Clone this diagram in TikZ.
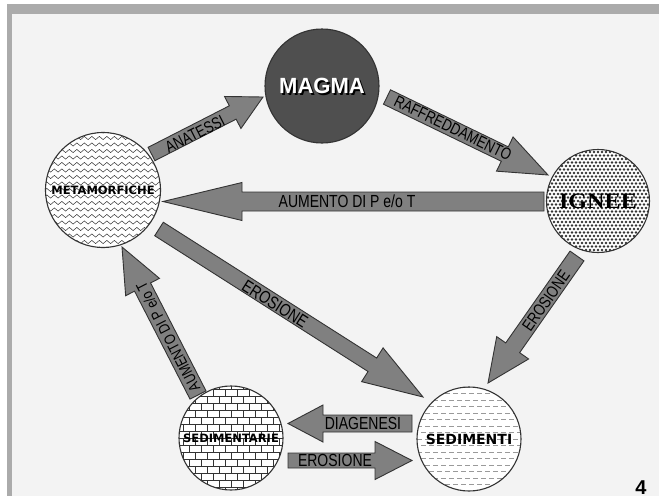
\documentclass[tikz,border=0pt]{standalone}
\usepackage{fontspec}
\setmainfont{Liberation Sans}
\newfontfamily\narrowfont[FakeStretch=0.8]{Liberation Sans}
\newfontfamily\rockfont{DejaVu Sans}
\newfontfamily\serifrock[FakeStretch=1.1]{Liberation Serif}
\usetikzlibrary{calc,decorations.pathmorphing}
\definecolor{panel}{HTML}{F3F3F3}
\definecolor{frame}{HTML}{ABABAB}
\definecolor{arrowgray}{HTML}{808080}
\definecolor{edge}{HTML}{333333}
\definecolor{magmagray}{HTML}{4F4F4F}
\definecolor{dashgray}{HTML}{9A9A9A}

\tikzset{
  rock/.style={circle, draw=edge, line width=1.1pt, minimum size=#1, inner sep=0pt},
  barrow/.style={fill=arrowgray, draw=edge, line width=0.9pt, line join=miter},
  alabel/.style={font=\narrowfont\fontsize{#1}{#1}\selectfont, inner sep=0pt, text=black},
  rlabel/.style={font=\rockfont\bfseries\fontsize{#1}{#1}\selectfont, inner sep=0pt, text=black},
}

% patterned disc: centre x, centre y, radius, pattern body
\newcommand{\patterndisc}[4]{%
  \begin{scope}
    \clip (#1,#2) circle (#3pt);
    \fill[white] (#1,#2) circle (#3pt);
    \begin{scope}[shift={(#1,#2)}]
      #4
    \end{scope}
  \end{scope}}

\newcommand{\wavebody}{%
  \foreach \j in {-10,...,10}{
    \draw[edge, line width=0.5pt, decorate, decoration={snake, segment length=7.5pt, amplitude=1.6pt}] (-66,\j*6.5) -- (66,\j*6.5);}}
\newcommand{\dotbody}{%
  \foreach \j in {-16,...,16}{
    \pgfmathsetmacro\off{mod(\j+20,2)*2}
    \foreach \i in {-14,...,14}{
      \fill[edge] ({\i*4+\off},{\j*3.5}) circle (1.3pt);}}}
\newcommand{\brickbody}{%
  \foreach \j in {-8,...,8}{
    \draw[edge, line width=0.6pt] (-60,\j*7) -- (60,\j*7);
    \pgfmathsetmacro\off{mod(\j+20,2)*6}
    \foreach \i in {-6,...,5}{
      \draw[edge, line width=0.6pt] ({\i*12+\off},{\j*7}) -- ({\i*12+\off},{\j*7+7});}}}
\newcommand{\dashbody}{%
  \foreach \j in {-8,...,8}{
    \pgfmathsetmacro\ph{mod(\j+20,2)*4}
    \draw[dashgray, line width=0.6pt, dash pattern=on 5pt off 3pt, dash phase=\ph pt] (-60,\j*6.5) -- (60,\j*6.5);}}

% block arrow: tail, tip, shaft half width, head half width, head length
\newcommand{\blockarrow}[5]{%
  \draw[barrow] let \p1=(#1), \p2=(#2),
      \n1={atan2(\y2-\y1,\x2-\x1)}, \n2={veclen(\x2-\x1,\y2-\y1)} in
    ([shift={(\p1)},rotate=\n1]0,#3)
    -- ([shift={(\p1)},rotate=\n1]{\n2-#5},#3)
    -- ([shift={(\p1)},rotate=\n1]{\n2-#5},#4)
    -- ([shift={(\p1)},rotate=\n1]{\n2},0)
    -- ([shift={(\p1)},rotate=\n1]{\n2-#5},-#4)
    -- ([shift={(\p1)},rotate=\n1]{\n2-#5},-#3)
    -- ([shift={(\p1)},rotate=\n1]0,-#3) -- cycle;}

\begin{document}
\begin{tikzpicture}[x=1pt,y=-1pt]
\useasboundingbox (0,0) rectangle (659,496);
% background
\fill[white] (0,0) rectangle (659,496);
\fill[frame] (7,4) rectangle (659,496);
\fill[panel] (12,14) rectangle (659,496);

% patterns inside the rock circles
\patterndisc{103}{190}{57.5}{\wavebody}
\patterndisc{598}{201}{51.5}{\dotbody}
\patterndisc{469}{439}{52}{\dashbody}
\patterndisc{231}{438}{52}{\brickbody}

% rock circles
\node[rock=114pt, fill=magmagray] (magma) at (322,86) {};
\node[font=\bfseries\fontsize{22}{22}\selectfont, text=black, inner sep=0pt] (magmashadow) at ([shift={(1.7,1.7)}]magma.center) {MAGMA};
\node[font=\bfseries\fontsize{22}{22}\selectfont, text=white, inner sep=0pt] (magmatext) at (magma.center) {MAGMA};

\node[rock=115pt, rlabel=11.5] (meta) at (103,190) {METAMORFICHE};
\node[rock=103pt, font=\serifrock\bfseries\fontsize{22}{22}\selectfont, inner sep=0pt] (ignee) at (598,201) {IGNEE};
\node[rock=104pt, rlabel=14] (sedi) at (469,439) {SEDIMENTI};
\node[rock=104pt, rlabel=11.5] (sedim) at (231,438) {SEDIMENTARIE};

% arrow end points
\coordinate (anaT) at (151.5,154);  \coordinate (anaH) at (263,97);
\coordinate (rafT) at (387,97);     \coordinate (rafH) at (548,175);
\coordinate (aumT) at (544,201.5);  \coordinate (aumH) at (163,201.5);
\coordinate (eroT) at (159,229);    \coordinate (eroH) at (423,397);
\coordinate (erbT) at (577,256);    \coordinate (erbH) at (488,383);
\coordinate (au2T) at (198,395);    \coordinate (au2H) at (122,247);
\coordinate (diaT) at (412,423.5);  \coordinate (diaH) at (288,423.5);
\coordinate (ercT) at (288,460.5);  \coordinate (ercH) at (412,460.5);

\blockarrow{anaT}{anaH}{7.5}{18}{34}
\blockarrow{rafT}{rafH}{8}{19}{48}
\blockarrow{aumT}{aumH}{9.5}{19}{79}
\blockarrow{eroT}{eroH}{8}{20}{60}
\blockarrow{erbT}{erbH}{8.5}{19.5}{43}
\blockarrow{au2T}{au2H}{9}{19}{45}
\blockarrow{diaT}{diaH}{8.5}{18.5}{35}
\blockarrow{ercT}{ercH}{7.5}{19}{37}

% arrow labels
\node[alabel=16.5, rotate=27] (anaL) at (195,134) {ANATESSI};
\node[alabel=16.5, rotate=-26] (rafL) at (453,128) {RAFFREDDAMENTO};
\node[alabel=17.5] (aumL) at (347,201.5) {AUMENTO DI P e/o T};
\node[alabel=17.5, rotate=-32.5] (eroL) at (275,304) {EROSIONE};
\node[alabel=16.5, rotate=55] (erbL) at (546,301) {EROSIONE};
\node[alabel=15.5, rotate=117.2] (au2L) at (168,337) {AUMENTO DI P e/o T};
\node[alabel=17.5] (diaL) at (363,423.5) {DIAGENESI};
\node[alabel=17.5] (ercL) at (335,460.5) {EROSIONE};

% page number
\node[font=\bfseries\fontsize{20}{20}\selectfont, anchor=north, inner sep=0pt] (pagenum) at (641,481) {4};
\end{tikzpicture}
\end{document}
